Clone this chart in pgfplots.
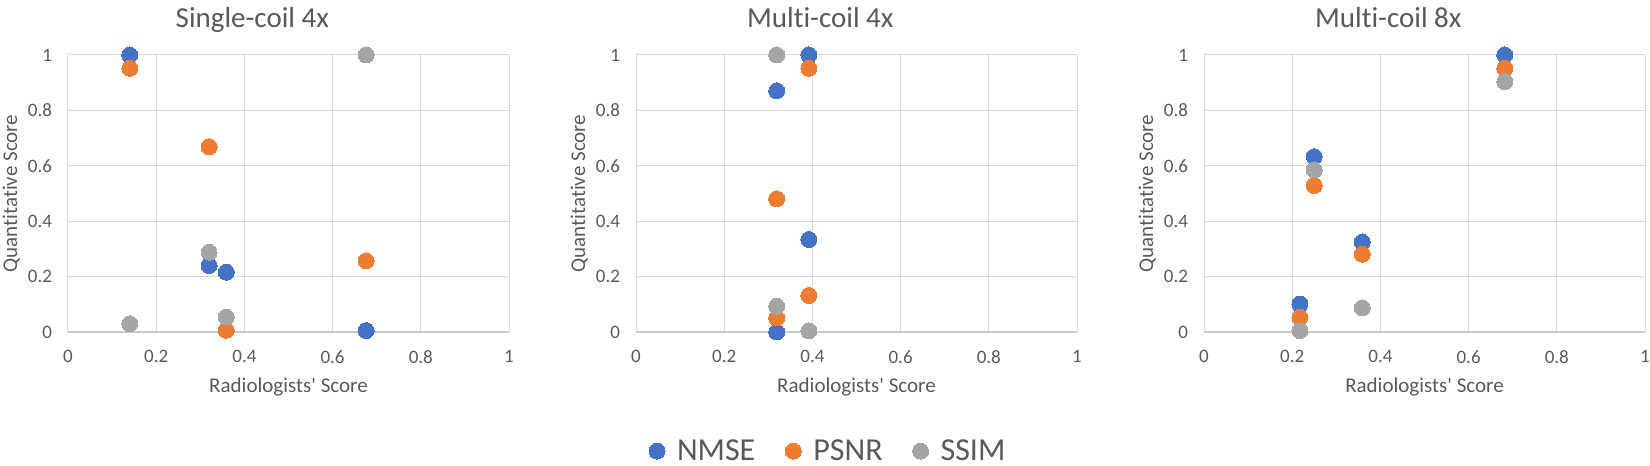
\documentclass[border=0pt]{standalone}
\usepackage{fontspec}
\setmainfont{Carlito}[Ligatures={TeX,NoCommon}]
\usepackage{pgfplots}
\pgfplotsset{compat=1.18}
\definecolor{cb}{HTML}{4472C4}
\definecolor{co}{HTML}{ED7D31}
\definecolor{cg}{HTML}{A5A5A5}
\definecolor{gridc}{HTML}{D9D9D9}
\definecolor{axisc}{HTML}{C8C8C8}
\definecolor{txt}{HTML}{595959}
\pgfplotsset{
  panel/.style={
    scale only axis, width=441pt, height=277pt,
    xmin=0, xmax=1, ymin=0, ymax=1,
    xtick={0,0.2,0.4,0.6,0.8,1}, ytick={0,0.2,0.4,0.6,0.8,1},
    grid=major, major grid style={draw=gridc, line width=1pt},
    axis x line*=bottom, axis y line*=left,
    x axis line style={draw=axisc, line width=1.2pt, -},
    y axis line style={draw=gridc, line width=1pt, -},
    major tick length=0pt,
    /pgf/number format/assume math mode=true,
    ticklabel style={font=\fontsize{19}{22}\selectfont, text=txt},
    xticklabel style={yshift=-15pt},
    yticklabel style={xshift=-12.5pt},
    xlabel={Radiologists\textquotesingle\ Score}, ylabel={Quantitative Score},
    label style={font=\fontsize{21}{24}\selectfont, text=txt},
    xlabel style={at={(axis description cs:0.5,-0.220)}, anchor=base},
    ylabel style={at={(axis description cs:-0.1156,0.5)}, anchor=base},
    title style={at={(axis description cs:0.418,1.077)}, anchor=base, yshift=0pt, font=\fontsize{29}{34}\selectfont, text=txt},
    clip=false,
  },
  sb/.style={only marks, color=cb, mark=*, mark size=8pt, mark options={draw=cb, fill=cb, line width=0pt}},
  so/.style={only marks, color=co, mark=*, mark size=8pt, mark options={draw=co, fill=co, line width=0pt}},
  sg/.style={only marks, color=cg, mark=*, mark size=8pt, mark options={draw=cg, fill=cg, line width=0pt}},
}
\begin{document}
\begin{tikzpicture}[x=1pt,y=1pt]
\path[use as bounding box] (0,0) rectangle (1650,466);
% Panel 1
\begin{axis}[panel, at={(68pt,134pt)}, anchor=south west, title={Single-coil 4x}]
\addplot[sb] coordinates {(0.140,1.000) (0.320,0.240) (0.359,0.216) (0.676,0.005)};
\addplot[so] coordinates {(0.140,0.952) (0.320,0.669) (0.359,0.006) (0.676,0.257)};
\addplot[sg] coordinates {(0.140,0.030) (0.320,0.288) (0.359,0.054) (0.676,1.000)};
\end{axis}
% Panel 2
\begin{axis}[panel, at={(636pt,134pt)}, anchor=south west, title={Multi-coil 4x},
  legend image code/.code={\draw[#1] plot coordinates {(0pt,0pt)};},
  legend style={at={(axis description cs:0.0295,-0.430)}, anchor=west, draw=none, fill=none,
    inner sep=0pt, outer sep=0pt, nodes={inner sep=0pt, outer sep=0pt},
    legend columns=3, font=\fontsize{32}{35}\selectfont, text=txt,
    /tikz/every odd column/.append style={column sep=12pt},
    /tikz/every even column/.append style={column sep=30pt}},
  legend cell align=left]
\addplot[sb] coordinates {(0.319,0.871) (0.392,1.000) (0.392,0.334) (0.319,0.000)};
\addplot[so] coordinates {(0.392,0.952) (0.319,0.481) (0.392,0.132) (0.319,0.051)};
\addplot[sg] coordinates {(0.319,1.000) (0.319,0.093) (0.392,0.004)};
\legend{NMSE,PSNR,SSIM}
\end{axis}
% Panel 3
\begin{axis}[panel, at={(1204pt,134pt)}, anchor=south west, title={Multi-coil 8x}]
\addplot[sb] coordinates {(0.682,1.000) (0.250,0.633) (0.359,0.325) (0.2175,0.101)};
\addplot[so] coordinates {(0.682,0.952) (0.250,0.529) (0.359,0.281) (0.2175,0.053)};
\addplot[sg] coordinates {(0.682,0.904) (0.250,0.585) (0.359,0.087) (0.2175,0.005)};
\end{axis}
\end{tikzpicture}
\end{document}
